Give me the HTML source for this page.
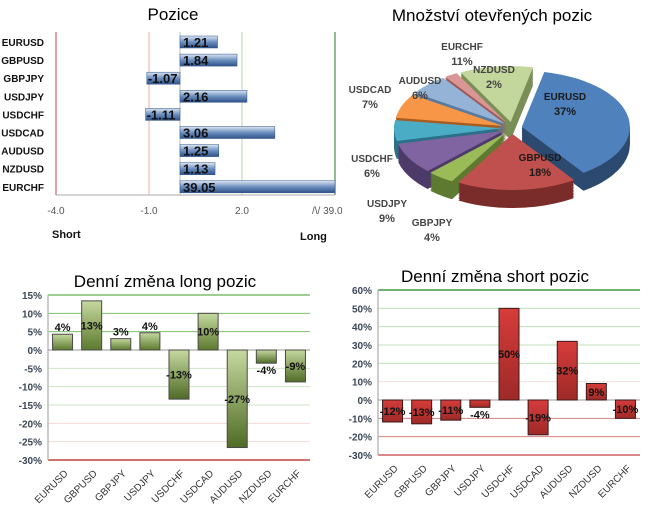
<!DOCTYPE html>
<html><head><meta charset="utf-8"><style>
html,body{margin:0;padding:0;background:#fff;width:648px;height:507px;overflow:hidden}
svg{display:block;font-family:"Liberation Sans",Arial,sans-serif}
.t{font-size:17px;fill:#000}
.b{font-weight:bold;font-size:10px;fill:#111}
.ax{font-size:10px;font-weight:bold;fill:#3b4656}
</style></head><body>
<svg id="s" width="648" height="507" viewBox="0 0 648 507">
<defs>
<linearGradient id="gb" x1="0" y1="0" x2="0" y2="1"><stop offset="0" stop-color="#dce6f2"/><stop offset="0.5" stop-color="#6d8fc0"/><stop offset="1" stop-color="#2e5389"/></linearGradient>
<linearGradient id="gg" x1="0" y1="0" x2="0" y2="1"><stop offset="0" stop-color="#c6d9a0"/><stop offset="1" stop-color="#5c7a2e"/></linearGradient>
<linearGradient id="ggn" x1="0" y1="0" x2="0" y2="1"><stop offset="0" stop-color="#c6d9a0"/><stop offset="1" stop-color="#4f6b26"/></linearGradient>
<linearGradient id="gr" x1="0" y1="0" x2="0" y2="1"><stop offset="0" stop-color="#d63c3a"/><stop offset="1" stop-color="#9e2a28"/></linearGradient>
</defs>
<text class="t" x="173" y="20" text-anchor="middle">Pozice</text>
<text class="t" x="492" y="21" text-anchor="middle">Množství otevřených pozic</text>
<text class="t" x="165" y="287" text-anchor="middle">Denní změna long pozic</text>
<text class="t" x="495" y="282" text-anchor="middle">Denní změna short pozic</text>
<g id="pos"></g>
<g id="pie"></g>
<g id="lng"></g>
<g id="sht"></g>
</svg>
<script>
const NS="http://www.w3.org/2000/svg";
function mk(p,tag,a,txt){const e=document.createElementNS(NS,tag);for(const k in a)e.setAttribute(k,a[k]);if(txt!=null)e.textContent=txt;p.appendChild(e);return e;}
const pairs=["EURUSD","GBPUSD","GBPJPY","USDJPY","USDCHF","USDCAD","AUDUSD","NZDUSD","EURCHF"];
const posValues=[1.21,1.84,-1.07,2.16,-1.11,3.06,1.25,1.13,39.05];
const posTicks=["-4.0","-1.0","2.0"];
const posTickVals=[-4,-1,2];
const pieLabels=["EURUSD","GBPUSD","GBPJPY","USDJPY","USDCHF","USDCAD","AUDUSD","NZDUSD","EURCHF"];
const pieValues=[37,18,4,9,6,7,6,2,11];
const longValues=[4.3,13.4,3.1,4.7,-13.4,10,-26.6,-3.6,-8.7];
const longLabels=["4%","13%","3%","4%","-13%","10%","-27%","-4%","-9%"];
const longTicks=[15,10,5,0,-5,-10,-15,-20,-25,-30];
const shortValues=[-12,-13,-11,-4,50,-19,32,9,-10];
const shortLabels=["-12%","-13%","-11%","-4%","50%","-19%","32%","9%","-10%"];
const shortTicks=[60,50,40,30,20,10,0,-10,-20,-30];

(function(){
const g=document.getElementById('pos');
const x=v=>v>10?335:180+v*31;
const rowY=i=>42+i*18.1;
[[-4,"#d07070"],[-1,"#f0c0c0"],[2,"#c8e0c0"]].forEach(([v,c])=>mk(g,'line',{x1:x(v),x2:x(v),y1:32,y2:195,stroke:c,'stroke-width':1.3}));
mk(g,'line',{x1:335,x2:335,y1:32,y2:195,stroke:'#5a9a50','stroke-width':1.3});
mk(g,'line',{x1:180,x2:180,y1:32,y2:195,stroke:'#bbb'});
mk(g,'line',{x1:56,x2:335,y1:195,y2:195,stroke:'#aaa'});
posTickVals.forEach((v,i)=>{const t=mk(g,'text',{x:x(v),y:214,'text-anchor':'middle',class:'ax',style:'font-weight:normal;fill:#555'},posTicks[i]);

});
const br=mk(g,'text',{x:312,y:214,style:'font-size:10px;fill:#555'},"/\\/ 39.0");


pairs.forEach((p,i)=>{
 const y=rowY(i),v=posValues[i];
 const l=mk(g,'text',{x:44,y:y+4,'text-anchor':'end',class:'b'},p);
 
 
 const x0=Math.min(x(0),x(v)),w=Math.abs(x(v)-x(0));
 const r=mk(g,'rect',{x:x0,y:y-6,width:w,height:12,fill:'url(#gb)',stroke:'#2e5389','stroke-width':0.5});
 
 
 mk(g,'text',{x:v<0?x(v)+1:183,y:y+5,class:'b',style:'font-size:13px'},v.toFixed(2));
});
const s=mk(g,'text',{x:52,y:238,class:'b',style:'font-size:11px'},"Short");


const lo=mk(g,'text',{x:300,y:240,class:'b',style:'font-size:11px'},"Long");


})();

(function(){
const g=document.getElementById('pie');
const cx=512,cy=128,rx=108,ry=56,depth=18,start=12;
const cols=["#4f81bd","#c0504d","#9bbb59","#8064a2","#4bacc6","#f79646","#95b3d7","#d99694","#c3d69b"];
const dark=["#2c4a70","#7a2c2a","#5d7a30","#4d3a68","#2a7088","#a85d20","#5a7aa0","#9a5a58","#7a8e58"];
const tot=pieValues.reduce((a,b)=>a+b,0);
let a=start;const sl=[];
pieValues.forEach((v,i)=>{const sw=v/tot*360;sl.push([a,a+sw]);a+=sw;});
const pt=(ang,ox,oy,dy)=>{const r=ang*Math.PI/180;return [ox+rx*Math.sin(r),oy-ry*Math.cos(r)+dy];};
function path(i,dy){const [a0,a1]=sl[i];const m=(a0+a1)/2*Math.PI/180;const ox=cx+10*Math.sin(m),oy=cy-6*Math.cos(m);
 let d=`M${ox},${oy+dy}`;for(let t=a0;t<=a1+0.01;t+=2){const p=pt(Math.min(t,a1),ox,oy,dy);d+=`L${p[0].toFixed(1)},${p[1].toFixed(1)}`;}
 const p=pt(a1,ox,oy,dy);d+=`L${p[0]},${p[1]}Z`;return d;}
for(let dy=depth;dy>0;dy-=1.5)pieValues.forEach((v,i)=>mk(g,'path',{d:path(i,dy),fill:dark[i]}));
pieValues.forEach((v,i)=>{const s=mk(g,'path',{d:path(i,0),fill:cols[i]});
 
 });
const lp=[[565,100,true],[540,161,true],[432,226,false],[387,207,false],[372,162,false],[370,93,false],[420,84,false],[494,73,false],[462,50,false]];
pieLabels.forEach((n,i)=>{const [x,y,w]=lp[i];const f=w?'#1a1a1a':'#444';
 const t=mk(g,'text',{x:x,y:y,'text-anchor':'middle',class:'b',style:'fill:'+f},n);
 
 
 mk(g,'text',{x:x,y:y+15,'text-anchor':'middle',class:'b',style:'font-size:11px;fill:'+f},pieValues[i]+'%');});
})();

function barChart(id,vals,labs,ticks,x0,x1,yTop,yBot,fillP,fillN,stroke,gridCol){
const g=document.getElementById(id);
const mx=ticks[0],mn=ticks[ticks.length-1];
const y=v=>yTop+(mx-v)/(mx-mn)*(yBot-yTop);
const cw=(x1-x0)/vals.length;
ticks.forEach(t=>{mk(g,'line',{x1:x0,x2:x1,y1:y(t),y2:y(t),stroke:gridCol(t),'stroke-width':t===mn||t===mx?1.5:1});
 const tl=mk(g,'text',{x:x0-6,y:y(t)+4,'text-anchor':'end',class:'ax'},t+'%');
 
 });
mk(g,'line',{x1:x0,x2:x0,y1:yTop,y2:yBot,stroke:'#bbb','stroke-width':1.5});
mk(g,'line',{x1:x0,x2:x1,y1:y(0),y2:y(0),stroke:'#999'});
vals.forEach((v,i)=>{const cx=x0+cw*(i+0.5);const ya=Math.min(y(0),y(v)),h=Math.abs(y(v)-y(0));
 const r=mk(g,'rect',{x:cx-10,y:ya,width:20,height:h,fill:v>=0?fillP:fillN,stroke:stroke,'stroke-width':1});
 
 
 let ly=Math.abs(v)>8?(y(v)+y(0))/2+4:(v>=0?y(v)-3:y(v)+11);
 mk(g,'text',{x:cx,y:ly,'text-anchor':'middle',class:'b',style:'font-size:11px'},labs[i]);
 const xl=mk(g,'text',{x:cx+6,y:yBot+14,'text-anchor':'end',transform:`rotate(-45 ${cx+6} ${yBot+14})`,style:'font-size:10px;fill:#333'},pairs[i]);
 
 });
}
barChart('lng',longValues,longLabels,longTicks,48,310,295,460,'url(#gg)','url(#ggn)','#4a4a4a',
 t=>t===-30?'#c04040':t>0?'#7cbf6c':t===-25||t===-20?'#f2d8d8':'#cfe6c8');
barChart('sht',shortValues,shortLabels,shortTicks,378,640,290,455,'url(#gr)','url(#gr)','#3a1a1a',
 t=>t===60?'#3f9a40':t===-30?'#d06060':t===-10||t===-20?'#d88080':t===10?'#f4dede':t>0?'#bfe0b8':'#999');
</script>
</body></html>
